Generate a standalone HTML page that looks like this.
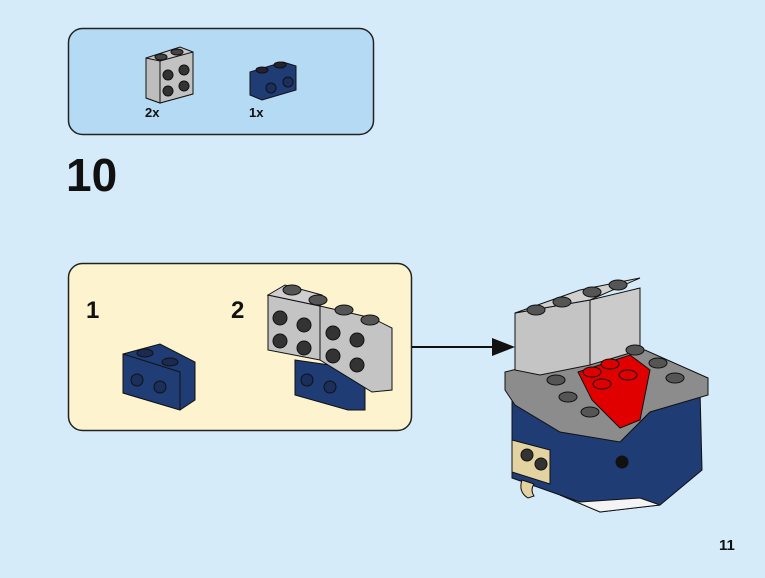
<!DOCTYPE html>
<html><head><meta charset="utf-8"><style>
html,body{margin:0;padding:0;background:#d5ebfa;}
svg{display:block;}
text{font-family:"Liberation Sans",sans-serif;font-weight:bold;fill:#111;}
</style></head><body>
<svg width="765" height="578" viewBox="0 0 765 578" xmlns="http://www.w3.org/2000/svg">
<rect width="765" height="578" fill="#d5ebfa"/>
<rect x="68.5" y="28.5" width="305" height="106" rx="14" fill="#b5daf3" stroke="#222" stroke-width="1.5"/>
<g stroke="#111" stroke-width="1">
<polygon points="146,58 180,47 193,52 193,94 160,103 146,98" fill="#c8c8c8"/>
<polygon points="160,61 193,52 193,94 160,103" fill="#c2c2c2"/>
<polygon points="146,58 160,61 160,103 146,98" fill="#bdbdbd"/>
<ellipse cx="161" cy="57" rx="6" ry="3" fill="#444"/><ellipse cx="177" cy="52" rx="6" ry="3" fill="#444"/>
<circle cx="168" cy="75" r="5" fill="#333"/><circle cx="184" cy="70" r="5" fill="#333"/>
<circle cx="168" cy="91" r="5" fill="#333"/><circle cx="184" cy="86" r="5" fill="#333"/>
</g>
<g stroke="#111" stroke-width="1">
<polygon points="250,72 283,62 296,66 296,90 262,100 250,95" fill="#1f3c74"/>
<ellipse cx="262" cy="70" rx="6" ry="3" fill="#223"/><ellipse cx="280" cy="65" rx="6" ry="3" fill="#223"/>
<circle cx="271" cy="88" r="5" fill="#1a2f5c"/><circle cx="288" cy="82" r="5" fill="#1a2f5c"/>
</g>
<text x="145" y="117" font-size="13">2x</text>
<text x="249" y="117" font-size="13">1x</text>
<text x="66" y="191" font-size="46">10</text>
<rect x="68.5" y="263.5" width="343" height="167" rx="14" fill="#fdf3cf" stroke="#222" stroke-width="1.5"/>
<text x="86" y="318" font-size="24">1</text>
<text x="231" y="318" font-size="24">2</text>
<g stroke="#111" stroke-width="1">
<polygon points="123,354 160,344 195,362 195,400 180,410 123,393" fill="#1f3c74"/>
<polygon points="123,354 180,372 180,410 123,393" fill="#203d75"/>
<ellipse cx="145" cy="353" rx="8" ry="4" fill="#1a2a50"/><ellipse cx="170" cy="362" rx="8" ry="4" fill="#1a2a50"/>
<circle cx="137" cy="380" r="6" fill="#1a2f5c"/><circle cx="160" cy="387" r="6" fill="#1a2f5c"/>
</g>
<g stroke="#111" stroke-width="1">
<polygon points="295,360 365,370 365,410 348,410 295,395" fill="#1f3c74"/>
<circle cx="307" cy="380" r="6" fill="#1a2f5c"/><circle cx="330" cy="387" r="6" fill="#1a2f5c"/>
<polygon points="268,295 320,306 320,360 268,350" fill="#c4c4c4"/>
<polygon points="320,306 372,318 392,328 392,390 372,392 320,360" fill="#c4c4c4"/>
<polygon points="268,295 285,285 322,295 320,306" fill="#cfcfcf"/>
<ellipse cx="292" cy="290" rx="9" ry="5" fill="#555"/><ellipse cx="318" cy="300" rx="9" ry="5" fill="#555"/>
<ellipse cx="344" cy="310" rx="9" ry="5" fill="#555"/><ellipse cx="370" cy="320" rx="9" ry="5" fill="#555"/>
<circle cx="280" cy="318" r="7" fill="#333"/><circle cx="304" cy="325" r="7" fill="#333"/>
<circle cx="280" cy="341" r="7" fill="#333"/><circle cx="304" cy="348" r="7" fill="#333"/>
<circle cx="333" cy="333" r="7" fill="#333"/><circle cx="357" cy="340" r="7" fill="#333"/>
<circle cx="333" cy="356" r="7" fill="#333"/><circle cx="357" cy="365" r="7" fill="#333"/>
</g>
<line x1="412" y1="347" x2="494" y2="347" stroke="#111" stroke-width="2"/>
<polygon points="492,338 515,347 492,356" fill="#111"/>
<g stroke="#111" stroke-width="1">
<polygon points="512,400 640,405 700,390 702,470 660,505 600,512 560,495 512,478" fill="#1f3c74"/>
<polygon points="560,495 600,512 660,505 640,498 580,502" fill="#f4f4f4"/>
<polygon points="505,372 545,362 645,350 708,378 708,395 650,412 620,442 560,432 515,405 505,390" fill="#8c8c8c"/>
<polygon points="515,313 590,300 590,365 540,375 515,370" fill="#c4c4c4"/>
<polygon points="590,300 640,288 640,350 590,365" fill="#cbcbcb"/>
<polygon points="515,313 580,290 640,278 590,300" fill="#d0d0d0"/>
<ellipse cx="536" cy="310" rx="9" ry="5" fill="#555"/><ellipse cx="562" cy="302" rx="9" ry="5" fill="#555"/>
<ellipse cx="592" cy="292" rx="9" ry="5" fill="#555"/><ellipse cx="618" cy="285" rx="9" ry="5" fill="#555"/>
<polygon points="578,372 630,355 650,370 640,420 620,428 592,400" fill="#e00000"/>
<ellipse cx="592" cy="372" rx="9" ry="5" fill="#d00"/><ellipse cx="610" cy="364" rx="9" ry="5" fill="#d00"/>
<ellipse cx="628" cy="375" rx="9" ry="5" fill="#d00"/><ellipse cx="602" cy="384" rx="9" ry="5" fill="#d00"/>
<ellipse cx="556" cy="380" rx="9" ry="5" fill="#555"/><ellipse cx="568" cy="397" rx="9" ry="5" fill="#555"/>
<ellipse cx="590" cy="412" rx="9" ry="5" fill="#555"/><ellipse cx="635" cy="350" rx="9" ry="5" fill="#555"/>
<ellipse cx="658" cy="363" rx="9" ry="5" fill="#555"/><ellipse cx="675" cy="378" rx="9" ry="5" fill="#555"/>
<polygon points="512,440 550,450 550,484 512,472" fill="#e3d3a0"/>
<circle cx="527" cy="455" r="6" fill="#333"/><circle cx="541" cy="464" r="6" fill="#333"/>
<path d="M522,480 q-4,12 6,18 l6,-2 q-4,-6 0,-12z" fill="#e3d3a0"/>
<circle cx="622" cy="462" r="6" fill="#111"/>
</g>
<text x="719" y="550" font-size="15">11</text>
</svg>
</body></html>
